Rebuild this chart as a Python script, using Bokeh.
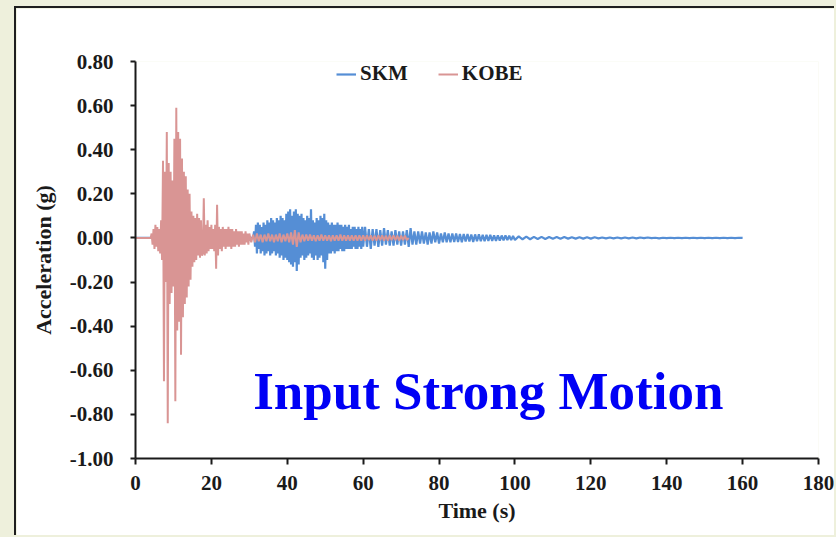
import numpy as np
from bokeh.plotting import figure
from bokeh.layouts import column
from bokeh.models import FixedTicker, NumeralTickFormatter, Legend, LegendItem, Label
from bokeh.embed import file_html
from bokeh.resources import INLINE

# ---- acceleration records (g) ----
# KOBE: quiet until 4 s, then sampled every 0.25 s up to 30 s, every 0.5 s afterwards
kobe_start = [0.0]
kobe_early = [
    0.00, 0.02, -0.03, 0.04, -0.05, 0.06, -0.04, 0.05, -0.06, 0.04, -0.07, 0.08, -0.10,
    0.35, -0.65, 0.30, -0.20, 0.48, -0.84, 0.34, -0.30, 0.30, -0.25, 0.26, -0.22,
    0.45, -0.74, 0.59, -0.42, 0.48, -0.38, 0.45, -0.53, 0.36, -0.36, 0.30, -0.30,
    0.28, -0.27, 0.22, -0.22, 0.20, -0.19, 0.12, -0.13, 0.10, -0.11, 0.09, -0.10,
    0.11, -0.08, 0.09, -0.09, 0.08, -0.08, -0.07, 0.18, -0.08, 0.06, -0.07, 0.08,
    -0.06, 0.05, -0.05, 0.06, -0.05, 0.04, -0.06, 0.06, -0.14, 0.15, -0.08, 0.05,
    -0.05, 0.04, -0.06, 0.05, -0.04, 0.04, -0.05, 0.04, -0.04, 0.05, -0.04, 0.04,
    -0.05, 0.04, -0.04, 0.03, -0.04, 0.04, -0.03, 0.03, -0.04, 0.03, -0.03, 0.03,
    -0.03, 0.02, -0.03, 0.03, -0.02, 0.02, -0.03, 0.02,
]
kobe_late = [
    -0.02, 0.015, -0.02, 0.02, -0.015, 0.015, -0.02, 0.015, -0.015, 0.02,
    -0.015, 0.015, -0.02, 0.015, -0.015, 0.02, -0.02, 0.015, -0.015, 0.02,
    -0.02, 0.025, -0.03, 0.035, -0.04, 0.025, -0.02, 0.015, -0.015, 0.015,
    -0.012, 0.015, -0.012, 0.012, -0.015, 0.012, -0.012, 0.015, -0.012, 0.012,
    -0.012, 0.012, -0.015, 0.012, -0.012, 0.012, -0.012, 0.015, -0.012, 0.012,
    -0.012, 0.012, -0.012, 0.012, -0.012, 0.012, -0.012, 0.012, -0.012, 0.012,
    -0.012, 0.012, -0.01, 0.012, -0.012, 0.01, -0.012, 0.012, -0.01, 0.012,
    -0.012, 0.01, -0.012, 0.012, -0.01, 0.012, -0.01, 0.01, -0.012, 0.01,
    -0.01, 0.01, -0.01, 0.0,
]

# SKM: quiet until 31 s, then 0.25 s to 60 s, 0.5 s to 100 s, 1 s to 160 s
skm_start = [0.0]
skm_strong = [
    0.00, 0.03, -0.04, 0.06, -0.07, 0.07, -0.05, 0.06, -0.07, 0.05, -0.06, 0.07,
    -0.08, 0.06, -0.07, 0.08, -0.06, 0.07, -0.08, 0.09, -0.07, 0.08, -0.06, 0.07,
    -0.08, 0.09, -0.07, 0.08, -0.09, 0.10, -0.08, 0.09, -0.10, 0.08, -0.09, 0.11,
    -0.10, 0.12, -0.11, 0.13, -0.12, 0.10, -0.13, 0.12, -0.11, 0.13, -0.15, 0.11,
    -0.12, 0.10, -0.09, 0.11, -0.08, 0.09, -0.10, 0.08, -0.09, 0.10, -0.08, 0.09,
    -0.07, 0.13, -0.09, 0.08, -0.10, 0.07, -0.08, 0.09, -0.10, 0.08, -0.09, 0.10,
    -0.08, 0.09, -0.11, 0.11, -0.14, 0.08, -0.10, 0.07, -0.07, 0.06, -0.07, 0.07,
    -0.06, 0.06, -0.07, 0.06, -0.06, 0.07, -0.06, 0.06, -0.05, 0.06, -0.06, 0.05,
    -0.06, 0.06, -0.05, 0.05, -0.05, 0.06, -0.05, 0.04, -0.05, 0.05, -0.04, 0.05,
    -0.05, 0.04, -0.05, 0.05, -0.04, 0.04, -0.05, 0.05, -0.04,
]
skm_mid = [
    0.05, -0.04, 0.04, -0.05, 0.04, -0.035, 0.04, -0.04, 0.035, -0.035,
    0.045, -0.03, 0.035, -0.035, 0.03, -0.035, 0.035, -0.03, 0.03, -0.035,
    0.03, -0.03, 0.035, -0.04, 0.045, -0.03, 0.03, -0.03, 0.03, -0.025,
    0.03, -0.025, 0.025, -0.03, 0.025, -0.025, 0.03, -0.02, 0.025, -0.025,
    0.02, -0.02, 0.025, -0.02, 0.02, -0.02, 0.02, -0.018, 0.02, -0.018,
    0.018, -0.02, 0.018, -0.016, 0.018, -0.016, 0.016, -0.018, 0.016, -0.015,
    0.016, -0.015, 0.014, -0.015, 0.014, -0.013, 0.014, -0.013, 0.012, -0.013,
    0.012, -0.012, 0.011, -0.011, 0.011, -0.010, 0.010, -0.010, 0.009, -0.009,
]
skm_tail = [
    0.007, -0.006, 0.006, -0.006, 0.005, -0.005, 0.005, -0.005, 0.004, -0.004,
    0.004, -0.004, 0.004, -0.003, 0.003, -0.003, 0.003, -0.003, 0.003, -0.003,
    0.003, -0.002, 0.002, -0.002, 0.002, -0.002, 0.002, -0.002, 0.002, -0.002,
    0.002, -0.002, 0.002, -0.001, 0.002, -0.001, 0.001, -0.002, 0.001, -0.001,
    0.001, -0.001, 0.001, -0.001, 0.001, -0.001, 0.001, -0.001, 0.001, -0.001,
    0.001, -0.001, 0.001, -0.001, 0.001, -0.001, 0.001, -0.001, 0.001, 0.000,
]

x_ticks = [0, 20, 40, 60, 80, 100, 120, 140, 160, 180]
y_ticks = [-1.0, -0.8, -0.6, -0.4, -0.2, 0.0, 0.2, 0.4, 0.6, 0.8]
series_names = ["SKM", "KOBE"]
series_colors = ["#558ED5", "#D99594"]


def seg_time(values, start, step):
    return start + step * np.arange(len(values))


kobe_t = np.concatenate([[0.0], seg_time(kobe_early, 4.0, 0.25), seg_time(kobe_late, 30.5, 0.5)])
kobe_a = np.concatenate([kobe_start, kobe_early, kobe_late])
skm_t = np.concatenate([[0.0], seg_time(skm_strong, 31.0, 0.25), seg_time(skm_mid, 60.5, 0.5),
                        seg_time(skm_tail, 101.0, 1.0)])
skm_a = np.concatenate([skm_start, skm_strong, skm_mid, skm_tail])

FONT = "Liberation Serif"
INK = "#1a1a1a"

p = figure(width=820, height=529, x_range=(0, 180), y_range=(-1.0, 0.8),
           output_backend="svg", toolbar_location=None,
           min_border_left=119, min_border_right=18, min_border_top=53, min_border_bottom=79,
           margin=(6, 0, 0, 14))
p.styles = {"border-top": "2px solid #1e1e1e", "border-left": "2px solid #1e1e1e"}
p.background_fill_color = "white"
p.border_fill_color = "white"
p.outline_line_color = None
p.xgrid.visible = False
p.ygrid.visible = False

r_skm = p.line(skm_t, skm_a, line_color=series_colors[0], line_width=2.2)
r_kobe = p.line(kobe_t, kobe_a, line_color=series_colors[1], line_width=2.0)

for ax in (p.xaxis[0], p.yaxis[0]):
    ax.axis_line_color = INK
    ax.axis_line_width = 2
    ax.major_tick_line_color = INK
    ax.major_tick_line_width = 2
    ax.major_tick_in = 0
    ax.minor_tick_line_color = None
    ax.major_label_text_font = FONT
    ax.major_label_text_font_style = "bold"
    ax.major_label_text_font_size = "21px"
    ax.major_label_text_color = INK
    ax.axis_label_text_font = FONT
    ax.axis_label_text_font_style = "bold"
    ax.axis_label_text_font_size = "22px"
    ax.axis_label_text_color = INK

p.xaxis.ticker = FixedTicker(ticks=x_ticks)
p.yaxis.ticker = FixedTicker(ticks=y_ticks)
p.yaxis.formatter = NumeralTickFormatter(format="0.00")
p.xaxis.major_tick_out = 6
p.yaxis.major_tick_out = 5
p.xaxis.major_label_standoff = 11
p.yaxis.major_label_standoff = 17
p.xaxis.axis_label = "Time (s)"
p.yaxis.axis_label = "Acceleration (g)"
p.xaxis.axis_label_standoff = 5
p.yaxis.axis_label_standoff = 11

legend = Legend(items=[LegendItem(label=series_names[0], renderers=[r_skm]),
                       LegendItem(label=series_names[1], renderers=[r_kobe])],
                orientation="horizontal", location=(201, 372),
                background_fill_alpha=0, border_line_color=None,
                padding=0, margin=0, spacing=30, glyph_width=20, label_standoff=4,
                label_height=22, glyph_height=22,
                label_text_font=FONT, label_text_font_style="bold",
                label_text_font_size="21px", label_text_color=INK)
p.add_layout(legend)

p.add_layout(Label(x=31.0, y=-0.695, text="Input Strong Motion", text_font=FONT,
                   text_font_style="bold", text_font_size="53px", text_color="#0000F5",
                   text_baseline="alphabetic"))

root = column(p, width=836, height=537, styles={"background-color": "#EEF0DC"})

open("out.html", "w").write(file_html(root, INLINE))
